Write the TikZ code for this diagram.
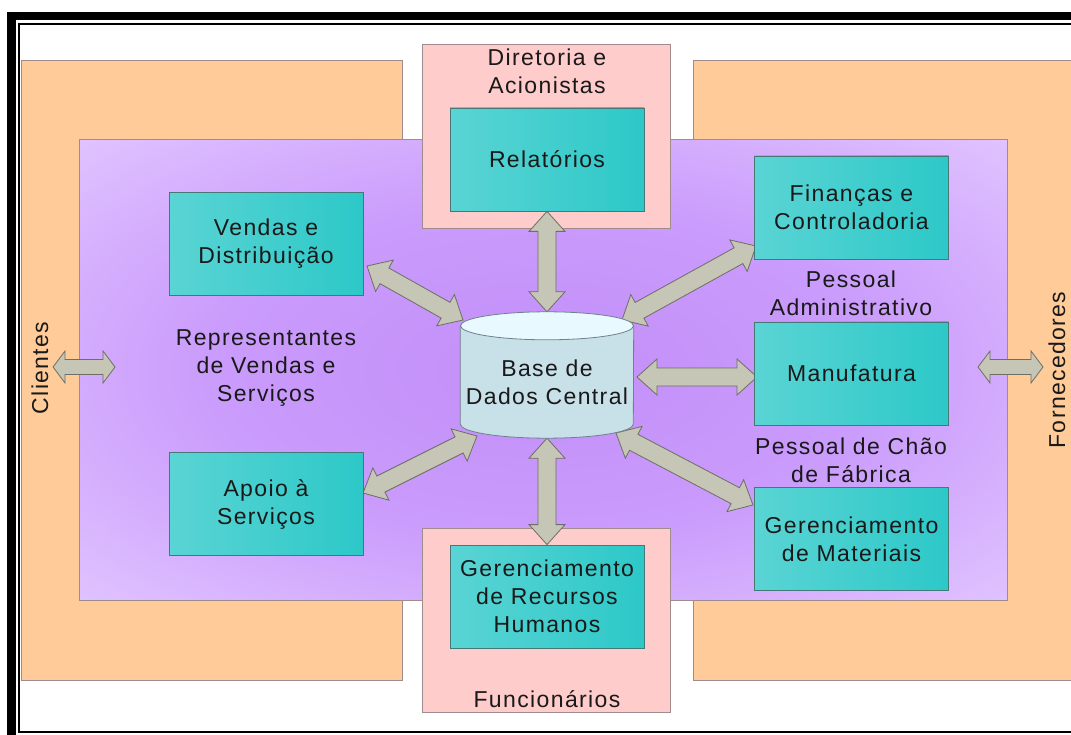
\documentclass[tikz,border=0pt]{standalone}
\usepackage{fontspec}
\setmainfont{Liberation Sans}[LetterSpace=6]
\usetikzlibrary{calc}
\definecolor{orangep}{RGB}{255,204,153}
\definecolor{pinkp}{RGB}{255,204,204}
\definecolor{panelline}{RGB}{160,140,140}
\definecolor{tealA}{RGB}{90,212,212}
\definecolor{tealB}{RGB}{45,200,200}
\definecolor{tealline}{RGB}{70,120,120}
\definecolor{purpA}{RGB}{194,142,248}
\definecolor{purpB}{RGB}{202,156,252}
\definecolor{purpC}{RGB}{226,198,255}
\definecolor{purpD}{RGB}{246,236,255}
\definecolor{arrowfill}{RGB}{198,198,182}
\definecolor{arrowline}{RGB}{110,110,100}
\definecolor{cylbody}{RGB}{200,224,232}
\definecolor{cyltop}{RGB}{232,250,255}
\definecolor{cylline}{RGB}{110,130,140}
\definecolor{txt}{RGB}{25,25,25}
\pgfdeclareradialshading{purpshade}{\pgfpoint{0bp}{0bp}}{color(0bp)=(purpA); color(18bp)=(purpB); color(37bp)=(purpC); color(50bp)=(purpD)}
% #1 head length, #2 head half width, #3 shaft half width, #4 start, #5 end
\newcommand\blockarrow[5]{%
  \path ($(#4)!#1!(#5)$) coordinate (ba1) ($(#5)!#1!(#4)$) coordinate (ba2);
  \draw[barrow] (#4) -- ($(ba1)!#2!90:(#5)$) -- ($(ba1)!#3!90:(#5)$)
    -- ($(ba2)!#3!-90:(#4)$) -- ($(ba2)!#2!-90:(#4)$) -- (#5)
    -- ($(ba2)!#2!90:(#4)$) -- ($(ba2)!#3!90:(#4)$)
    -- ($(ba1)!#3!-90:(#5)$) -- ($(ba1)!#2!-90:(#5)$) -- cycle;}
\begin{document}
\begin{tikzpicture}[x=1pt,y=1pt,
  opanel/.style={draw=panelline, line width=0.8pt, fill=orangep, anchor=north west, inner sep=0},
  ppanel/.style={draw=panelline, line width=0.8pt, fill=pinkp, anchor=north west, inner sep=0},
  purppanel/.style={draw=panelline, line width=0.8pt, shading=purpshade, anchor=north west, inner sep=0},
  tealbox/.style={draw=tealline, line width=0.8pt, left color=tealA, right color=tealB,
    minimum width=194pt, minimum height=103pt, inner sep=0, align=center,
    font=\fontsize{23pt}{28pt}\selectfont, text=txt},
  lbl/.style={inner sep=0, align=center, font=\fontsize{23pt}{28pt}\selectfont, text=txt},
  barrow/.style={fill=arrowfill, draw=arrowline, line width=0.8pt, line join=miter},
  dbnode/.style={minimum width=173pt, minimum height=126pt, inner sep=0}]
\useasboundingbox (0,0) rectangle (1071,-735);
\begin{scope}
\clip (0,0) rectangle (1071,-735);
\fill[white] (0,0) rectangle (1071,-735);
% panels
\node[opanel, minimum width=381pt, minimum height=620pt] (clpanel) at (21,-60) {};
\node[opanel, minimum width=400pt, minimum height=620pt] (fopanel) at (693,-60) {};
\node[purppanel, minimum width=928pt, minimum height=461pt] (company) at (79,-139) {};
\node[ppanel, minimum width=248pt, minimum height=184pt] (dirpanel) at (422,-44) {};
\node[ppanel, minimum width=248pt, minimum height=184pt] (funpanel) at (422,-528) {};
% central database frame
\node[dbnode] (db) at (547,-375) {};
% arrow end points
\coordinate (vA) at (367,-266); \coordinate (vB) at (463,-320);
\coordinate (fA) at (622,-320); \coordinate (fB) at (756,-246);
\coordinate (aA) at (363,-493); \coordinate (aB) at (477,-436);
\coordinate (mA) at (616,-433); \coordinate (mB) at (753,-505);
\coordinate (uA) at (637,-377); \coordinate (uB) at (757,-377);
\coordinate (cA) at (53,-367);  \coordinate (cB) at (115,-367);
\coordinate (oA) at (978,-367); \coordinate (oB) at (1043,-367);
% teal boxes
\node[tealbox] (rel) at (547,-159.5) {Relatórios};
\node[tealbox] (hr) at (547,-596.5) {Gerenciamento\\de Recursos\\Humanos};
% arrows
\blockarrow{20pt}{18pt}{9pt}{rel.south}{db.north}
\blockarrow{20pt}{18pt}{9pt}{db.south}{hr.north}
\blockarrow{20pt}{18pt}{9pt}{vA}{vB}
\blockarrow{20pt}{18pt}{9pt}{fA}{fB}
\blockarrow{20pt}{18pt}{9pt}{aA}{aB}
\blockarrow{20pt}{18pt}{9pt}{mA}{mB}
\blockarrow{20pt}{18pt}{9pt}{uA}{uB}
\blockarrow{12pt}{16pt}{7.5pt}{cA}{cB}
\blockarrow{12pt}{16pt}{7.5pt}{oA}{oB}
% redraw teal boxes over arrow tips
\node[tealbox] at (rel) {Relatórios};
\node[tealbox] at (hr) {Gerenciamento\\de Recursos\\Humanos};
\node[tealbox] (vendas) at (266,-244) {Vendas e\\Distribuição};
\node[tealbox] (apoio) at (266,-504) {Apoio à\\Serviços};
\node[tealbox] (fin) at (851.5,-207.5) {Finanças e\\Controladoria};
\node[tealbox] (manu) at (851.5,-373.5) {Manufatura};
\node[tealbox] (mat) at (851.5,-539) {Gerenciamento\\de Materiais};
% cylinder
\filldraw[fill=cylbody, draw=cylline, line width=0.8pt]
  ($(db.north west)+(0,-14)$) -- ($(db.south west)+(0,14)$)
  arc[start angle=180, end angle=360, x radius=86.5pt, y radius=14pt]
  -- ($(db.north east)+(0,-14)$) -- cycle;
\filldraw[fill=cyltop, draw=cylline, line width=0.8pt] ($(db.north)+(0,-14)$) ellipse[x radius=86.5pt, y radius=14pt];
\node[lbl] (dbtext) at (547,-382) {Base de\\Dados Central};
% labels
\node[lbl] (dirlbl) at (547,-71) {Diretoria e\\Acionistas};
\node[lbl] (funlbl) at (547,-699) {Funcionários};
\node[lbl] (replbl) at (266,-368) {Representantes\\de Vendas e\\Serviços};
\node[lbl] (admlbl) at (851,-293) {Pessoal\\Administrativo};
\node[lbl] (chaolbl) at (851,-460) {Pessoal de Chão\\de Fábrica};
\node[lbl, rotate=90] (clilbl) at (40,-368) {Clientes};
\node[lbl, rotate=90] (forlbl) at (1057,-370) {Fornecedores};
% outer frame
\draw[line width=8.5pt] (11.5,-16) rectangle (1100,-760);
\draw[line width=2pt] (19,-24) rectangle (1090,-732);
\end{scope}
\end{tikzpicture}
\end{document}
